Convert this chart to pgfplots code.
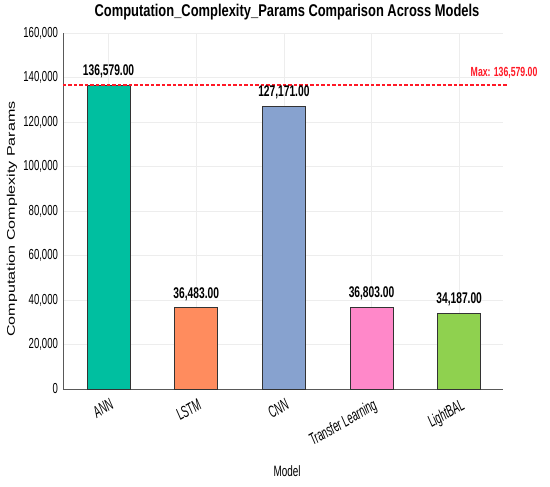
\documentclass[border=0pt]{standalone}
\usepackage{fontspec}
\setmainfont{Liberation Sans}
\newfontfamily\nar[FakeStretch=0.66]{Liberation Sans}
\newfontfamily\xt[FakeStretch=0.58]{Liberation Sans}
\newfontfamily\tit[FakeStretch=0.76]{Liberation Sans}
\usepackage{graphicx}
\usepackage{pgfplots}
\pgfplotsset{compat=1.18}
\definecolor{cANN}{HTML}{00BFA0}
\definecolor{cLSTM}{HTML}{FF8C5E}
\definecolor{cCNN}{HTML}{87A2CF}
\definecolor{cTL}{HTML}{FF88C9}
\definecolor{cLB}{HTML}{8FD14F}
\definecolor{maxred}{rgb}{1,0.1,0.15}
\begin{document}
\begin{tikzpicture}
\begin{axis}[
  at={(0,0)}, anchor=south west,
  width=440pt, height=356pt, scale only axis,
  xmin=-0.52, xmax=4.50, ymin=0, ymax=160000,
  axis x line=bottom, axis y line=left,
  axis line style={draw=black!65, line width=0.8pt, -},
  ytick={0,20000,40000,60000,80000,100000,120000,140000,160000},
  xtick={0,1,2,3,4},
  xticklabels={ANN,LSTM,CNN,Transfer Learning,LightBAL},
  major tick length=0pt,
  grid=major, grid style={draw=black!7, line width=0.5pt},
  scaled y ticks=false,
  /pgf/number format/fixed,
  /pgf/number format/1000 sep={,},
  /pgf/number format/assume math mode=true,
  yticklabel style={font=\nar\fontsize{14.5}{17}\selectfont, xshift=-1.5pt},
  xticklabel style={font=\xt\itshape\fontsize{16.5}{18}\selectfont, rotate=30, anchor=north east, inner sep=1pt, xshift=-3pt, yshift=-7pt},
  xlabel={Model},
  xlabel style={font=\nar\fontsize{15}{17}\selectfont, at={(axis description cs:0.5,0)}, anchor=center, yshift=-82pt, xshift=4pt},
  ylabel={\scalebox{1}[0.69]{\fontsize{16.1}{18}\selectfont Computation Complexity Params}},
  ylabel style={at={(axis description cs:0,0.5)}, anchor=center, yshift=51pt, xshift=-8pt},
  title={Computation\_Complexity\_Params Comparison Across Models},
  title style={font=\tit\bfseries\fontsize{17}{20}\selectfont, at={(axis description cs:0.5,1)}, anchor=center, yshift=14.5pt, xshift=4pt},
  clip=false,
  barstyle/.style={ybar, bar width=43pt, bar shift=0pt, draw=black!80, line width=0.8pt,
    nodes near coords={\pgfmathprintnumber[fixed, fixed zerofill, precision=2, 1000 sep={,}]{\pgfplotspointmeta}},
    nodes near coords style={font=\nar\bfseries\fontsize{15.5}{17}\selectfont, text=black, anchor=south, yshift=3pt}},
]
\addplot[barstyle, fill=cANN] coordinates {(0,136579)};
\addplot[barstyle, fill=cLSTM] coordinates {(1,36483)};
\addplot[barstyle, fill=cCNN] coordinates {(2,127171)};
\addplot[barstyle, fill=cTL] coordinates {(3,36803)};
\addplot[barstyle, fill=cLB] coordinates {(4,34187)};
\addplot[maxred, draw=maxred, mark=none, line width=1.6pt, dash pattern=on 3.5pt off 2pt] coordinates {(-0.52,136579) (4.56,136579)};
\node[font=\nar\bfseries\fontsize{13.2}{15}\selectfont, text=maxred, anchor=south east, inner sep=0pt, yshift=6.5pt] at (axis cs:4.895,136579) {Max: 136,579.00};
\end{axis}
\pgfresetboundingbox
\useasboundingbox (-63pt,-97.7pt) rectangle (487pt,389pt);
\end{tikzpicture}
\end{document}
